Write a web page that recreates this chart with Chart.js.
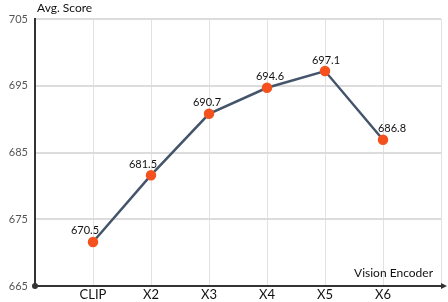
<!DOCTYPE html>
<html>
<head>
<meta charset="utf-8">
<script src="https://cdn.jsdelivr.net/npm/chart.js@4/dist/chart.umd.min.js"></script>
<style>
  html, body { margin: 0; padding: 0; background: #fff; }
  #wrap { width: 448px; height: 302px; }
</style>
</head>
<body>
<div id="wrap"><canvas id="chart1"></canvas></div>
<script>
// encoders along the x axis
const encoders = ['CLIP', 'X2', 'X3', 'X4', 'X5', 'X6'];
// plotted scores (as drawn) and the numbers printed above the points
const scores = [671.6, 681.6, 690.8, 694.7, 697.2, 686.9];
const scoreLabels = ['670.5', '681.5', '690.7', '694.6', '697.1', '686.8'];
const yTicks = [665, 675, 685, 695, 705];

const FONT = 'Lato, "Open Sans", sans-serif';
// horizontal nudge of each value label so the line does not cross it
const labelShift = [-8, -8, -2, 3, 1, 9];

// axis arrow, origin dot, axis titles and value labels
const extras = {
    id: 'extras',
    beforeDatasetsDraw(chart) {
        const ctx = chart.ctx;
        const a = chart.chartArea;
        ctx.save();
        ctx.strokeStyle = '#333';
        ctx.fillStyle = '#333';
        ctx.lineWidth = 2;
        ctx.beginPath();
        ctx.moveTo(a.left, a.bottom);
        ctx.lineTo(a.right + 3, a.bottom);
        ctx.stroke();
        ctx.beginPath();
        ctx.moveTo(a.right + 6, a.bottom);
        ctx.lineTo(a.right, a.bottom - 3);
        ctx.lineTo(a.right, a.bottom + 3);
        ctx.closePath();
        ctx.fill();
        ctx.beginPath();
        ctx.arc(a.left, a.bottom, 3, 0, Math.PI * 2);
        ctx.fill();
        ctx.restore();
    },
    afterDatasetsDraw(chart) {
        const ctx = chart.ctx;
        const a = chart.chartArea;
        ctx.save();
        ctx.fillStyle = '#111';
        ctx.font = '12px ' + FONT;
        ctx.textBaseline = 'middle';
        ctx.textAlign = 'left';
        ctx.fillText('Avg. Score', a.left + 2, 8);
        ctx.textAlign = 'right';
        ctx.fillText('Vision Encoder', a.right - 8, a.bottom - 13);

        ctx.font = '11px ' + FONT;
        ctx.textAlign = 'center';
        const meta = chart.getDatasetMeta(0);
        meta.data.forEach((pt, i) => {
            ctx.fillText(scoreLabels[i], pt.x + labelShift[i], pt.y - 11);
        });
        ctx.restore();
    }
};

new Chart(document.getElementById('chart1'), {
    type: 'line',
    data: {
        datasets: [{
            data: scores.map((v, i) => ({ x: i + 1, y: v })),
            borderColor: '#44546a',
            borderWidth: 2.5,
            pointBackgroundColor: '#f4511e',
            pointBorderColor: '#f4511e',
            pointRadius: 4,
            tension: 0,
            fill: false
        }]
    },
    options: {
        responsive: true,
        maintainAspectRatio: false,
        animation: false,
        layout: { padding: { top: 19, right: 7, bottom: 0, left: 0 } },
        plugins: {
            legend: { display: false },
            tooltip: { enabled: false }
        },
        scales: {
            x: {
                type: 'linear',
                min: 0,
                max: 7,
                afterBuildTicks: s => { s.ticks = [0, 1, 2, 3, 4, 5, 6, 7].map(v => ({ value: v })); },
                afterFit: s => { s.height = 16; },
                ticks: {
                    padding: 1,
                    color: '#111',
                    font: { size: 13, family: FONT },
                    maxRotation: 0,
                    callback: v => encoders[v - 1] || ''
                },
                grid: { color: '#e2e2e2', lineWidth: 1, drawTicks: false },
                border: { display: false }
            },
            y: {
                min: 665,
                max: 705,
                afterBuildTicks: s => { s.ticks = yTicks.map(v => ({ value: v })); },
                afterFit: s => { s.width = 35; },
                ticks: {
                    padding: 7,
                    color: '#555',
                    font: { size: 11, family: FONT }
                },
                grid: { color: '#dcdcdc', lineWidth: 2, drawTicks: false },
                border: { color: '#333', width: 2 }
            }
        }
    },
    plugins: [extras]
});
</script>
</body>
</html>
